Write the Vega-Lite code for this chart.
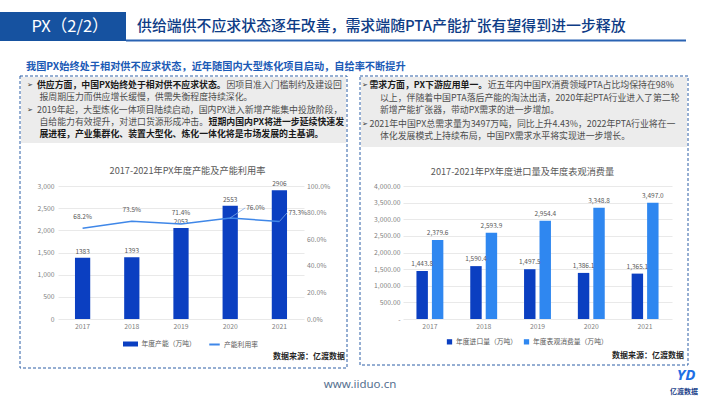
{
  "$schema": "https://vega.github.io/schema/vega-lite/v6.json",
  "width": 710,
  "height": 399,
  "autosize": "none",
  "padding": 0,
  "background": "#ffffff",
  "config": {
    "font": "Noto Sans CJK SC",
    "view": {"stroke": null},
    "axis": {"labelFont": "Noto Sans CJK SC", "labelColor": "#7f7f7f", "labelFontSize": 6.8, "ticks": false, "gridColor": "#e3e3e3", "gridWidth": 0.8, "domainColor": "#d9d9d9"},
    "legend": {"labelFont": "Noto Sans CJK SC", "labelColor": "#595959", "labelFontSize": 6.8, "title": null},
    "text": {"baseline": "middle"}
  },
  "datasets": {
    "capacity": [
      {"year": "2017", "capacity": 1383, "util": 0.682},
      {"year": "2018", "capacity": 1393, "util": 0.735},
      {"year": "2019", "capacity": 2053, "util": 0.714},
      {"year": "2020", "capacity": 2553, "util": 0.760},
      {"year": "2021", "capacity": 2906, "util": 0.733}
    ],
    "trade": [
      {"year": "2017", "series": "年度进口量（万吨）", "value": 1443.8},
      {"year": "2017", "series": "年度表观消费量（万吨）", "value": 2379.6},
      {"year": "2018", "series": "年度进口量（万吨）", "value": 1590.4},
      {"year": "2018", "series": "年度表观消费量（万吨）", "value": 2593.9},
      {"year": "2019", "series": "年度进口量（万吨）", "value": 1497.5},
      {"year": "2019", "series": "年度表观消费量（万吨）", "value": 2954.4},
      {"year": "2020", "series": "年度进口量（万吨）", "value": 1386.1},
      {"year": "2020", "series": "年度表观消费量（万吨）", "value": 3348.8},
      {"year": "2021", "series": "年度进口量（万吨）", "value": 1365.1},
      {"year": "2021", "series": "年度表观消费量（万吨）", "value": 3497.0}
    ]
  },
  "resolve": {
    "scale": {"x": "independent", "y": "independent", "color": "independent", "stroke": "independent"},
    "axis": {"x": "independent", "y": "independent"},
    "legend": {"color": "independent", "stroke": "independent"}
  },
  "layer": [
    {"data": {"values": [{}]}, "mark": {"type": "rect", "color": "#1652a0"}, "encoding": {"x": {"value": 0}, "x2": {"value": 126}, "y": {"value": 12}, "y2": {"value": 41}}},
    {"data": {"values": [{}]}, "mark": {"type": "rect", "color": "#2a63b3"}, "encoding": {"x": {"value": 126}, "x2": {"value": 686}, "y": {"value": 39.5}, "y2": {"value": 41.5}}},
    {"data": {"values": [{}]}, "mark": {"type": "text", "text": "PX（2/2）", "align": "center", "fontSize": 16.5, "color": "#ffffff"}, "encoding": {"x": {"value": 70}, "y": {"value": 27}}},
    {"data": {"values": [{}]}, "mark": {"type": "text", "text": "供给端供不应求状态逐年改善，需求端随PTA产能扩张有望得到进一步释放", "align": "left", "fontSize": 14.9, "fontWeight": 500, "color": "#0e3c86"}, "encoding": {"x": {"value": 137}, "y": {"value": 27}}},
    {"data": {"values": [{}]}, "mark": {"type": "text", "text": "我国PX始终处于相对供不应求状态，近年随国内大型炼化项目启动，自给率不断提升", "align": "left", "fontSize": 10.2, "fontWeight": "bold", "color": "#1b5ab6"}, "encoding": {"x": {"value": 26}, "y": {"value": 67}}},
    {"data": {"values": [{}]}, "mark": {"type": "rect", "color": "#ececec"}, "encoding": {"x": {"value": 21}, "x2": {"value": 346}, "y": {"value": 77}, "y2": {"value": 143}}},
    {"data": {"values": [{}]}, "mark": {"type": "rect", "color": "#ececec"}, "encoding": {"x": {"value": 361}, "x2": {"value": 687}, "y": {"value": 77}, "y2": {"value": 147}}},
    {"data": {"values": [{}]}, "mark": {"type": "rect", "filled": false, "stroke": "#2c5fa6", "strokeWidth": 1, "strokeDash": [3, 2]}, "encoding": {"x": {"value": 20}, "x2": {"value": 347}, "y": {"value": 76}, "y2": {"value": 368}}},
    {"data": {"values": [{}]}, "mark": {"type": "rect", "filled": false, "stroke": "#2c5fa6", "strokeWidth": 1, "strokeDash": [3, 2]}, "encoding": {"x": {"value": 360}, "x2": {"value": 688}, "y": {"value": 76}, "y2": {"value": 365}}},

    {"data": {"values": [{}]}, "mark": {"type": "text", "text": "➢", "align": "left", "fontSize": 6.5, "color": "#333333"}, "encoding": {"x": {"value": 27}, "y": {"value": 85}}},
    {"data": {"values": [{}]}, "mark": {"type": "text", "text": "供应方面，中国PX始终处于相对供不应求状态。", "align": "left", "fontSize": 8.9, "fontWeight": "bold", "color": "#1a1a1a"}, "encoding": {"x": {"value": 37}, "y": {"value": 85}}},
    {"data": {"values": [{}]}, "mark": {"type": "text", "text": "因项目准入门槛制约及建设回", "align": "left", "fontSize": 8.9, "color": "#4d4d4d"}, "encoding": {"x": {"value": 226.4}, "y": {"value": 85}}},
    {"data": {"values": [{}]}, "mark": {"type": "text", "text": "报周期压力而供应增长缓慢，供需失衡程度持续深化。", "align": "left", "fontSize": 8.9, "color": "#4d4d4d"}, "encoding": {"x": {"value": 39.5}, "y": {"value": 97}}},
    {"data": {"values": [{}]}, "mark": {"type": "text", "text": "➢", "align": "left", "fontSize": 6.5, "color": "#333333"}, "encoding": {"x": {"value": 27}, "y": {"value": 110}}},
    {"data": {"values": [{}]}, "mark": {"type": "text", "text": "2019年起，大型炼化一体项目陆续启动，国内PX进入新增产能集中投放阶段，", "align": "left", "fontSize": 8.9, "color": "#4d4d4d"}, "encoding": {"x": {"value": 37}, "y": {"value": 110}}},
    {"data": {"values": [{}]}, "mark": {"type": "text", "text": "自给能力有效提升，对进口货源形成冲击。", "align": "left", "fontSize": 8.9, "color": "#4d4d4d"}, "encoding": {"x": {"value": 39.5}, "y": {"value": 122}}},
    {"data": {"values": [{}]}, "mark": {"type": "text", "text": "短期内国内PX将进一步延续快速发", "align": "left", "fontSize": 8.9, "fontWeight": "bold", "color": "#1a1a1a"}, "encoding": {"x": {"value": 208.6}, "y": {"value": 122}}},
    {"data": {"values": [{}]}, "mark": {"type": "text", "text": "展进程，产业集群化、装置大型化、炼化一体化将是市场发展的主基调。", "align": "left", "fontSize": 8.9, "fontWeight": "bold", "color": "#1a1a1a"}, "encoding": {"x": {"value": 39.5}, "y": {"value": 134}}},

    {"data": {"values": [{}]}, "mark": {"type": "text", "text": "➢", "align": "left", "fontSize": 6.5, "color": "#333333"}, "encoding": {"x": {"value": 362}, "y": {"value": 85}}},
    {"data": {"values": [{}]}, "mark": {"type": "text", "text": "需求方面，PX下游应用单一。", "align": "left", "fontSize": 8.9, "fontWeight": "bold", "color": "#1a1a1a"}, "encoding": {"x": {"value": 369.5}, "y": {"value": 85}}},
    {"data": {"values": [{}]}, "mark": {"type": "text", "text": "近五年内中国PX消费领域PTA占比均保持在98%", "align": "left", "fontSize": 8.9, "color": "#4d4d4d"}, "encoding": {"x": {"value": 487.7}, "y": {"value": 85}}},
    {"data": {"values": [{}]}, "mark": {"type": "text", "text": "以上，伴随着中国PTA落后产能的淘汰出清，2020年起PTA行业进入了第二轮", "align": "left", "fontSize": 8.9, "color": "#4d4d4d"}, "encoding": {"x": {"value": 380}, "y": {"value": 97.5}}},
    {"data": {"values": [{}]}, "mark": {"type": "text", "text": "新增产能扩张器，带动PX需求的进一步增加。", "align": "left", "fontSize": 8.9, "color": "#4d4d4d"}, "encoding": {"x": {"value": 380}, "y": {"value": 110}}},
    {"data": {"values": [{}]}, "mark": {"type": "text", "text": "➢", "align": "left", "fontSize": 6.5, "color": "#333333"}, "encoding": {"x": {"value": 362}, "y": {"value": 124}}},
    {"data": {"values": [{}]}, "mark": {"type": "text", "text": "2021年中国PX总需求量为3497万吨，同比上升4.43%，2022年PTA行业将在一", "align": "left", "fontSize": 8.9, "color": "#4d4d4d"}, "encoding": {"x": {"value": 369.5}, "y": {"value": 124}}},
    {"data": {"values": [{}]}, "mark": {"type": "text", "text": "体化发展模式上持续布局，中国PX需求水平将实现进一步增长。", "align": "left", "fontSize": 8.9, "color": "#4d4d4d"}, "encoding": {"x": {"value": 380}, "y": {"value": 136}}},

    {"data": {"values": [{}]}, "mark": {"type": "text", "text": "2017-2021年PX年度产能及产能利用率", "align": "center", "fontSize": 9.2, "color": "#595959"}, "encoding": {"x": {"value": 187.5}, "y": {"value": 171}}},
    {"data": {"values": [{}]}, "mark": {"type": "text", "text": "2017-2021年PX年度进口量及年度表观消费量", "align": "center", "fontSize": 9.2, "color": "#595959"}, "encoding": {"x": {"value": 522.5}, "y": {"value": 171.5}}},
    {"data": {"values": [{}]}, "mark": {"type": "text", "text": "数据来源：亿渡数据", "align": "right", "fontSize": 8, "fontWeight": "bold", "color": "#262626"}, "encoding": {"x": {"value": 345}, "y": {"value": 357}}},
    {"data": {"values": [{}]}, "mark": {"type": "text", "text": "数据来源：亿渡数据", "align": "right", "fontSize": 8, "fontWeight": "bold", "color": "#262626"}, "encoding": {"x": {"value": 684}, "y": {"value": 356}}},
    {"data": {"values": [{}]}, "mark": {"type": "text", "text": "www.iiduo.cn", "align": "center", "fontSize": 11.5, "font": "Noto Sans", "color": "#55708f"}, "encoding": {"x": {"value": 360}, "y": {"value": 385}}},
    {"data": {"values": [{}]}, "mark": {"type": "text", "text": "YD", "align": "center", "fontSize": 15, "fontWeight": "bold", "fontStyle": "italic", "font": "Noto Sans", "color": "#1f6fe5"}, "encoding": {"x": {"value": 686}, "y": {"value": 375}}},
    {"data": {"values": [{}]}, "mark": {"type": "text", "text": "亿渡数据", "align": "center", "fontSize": 7, "fontWeight": "bold", "color": "#1b3f8a"}, "encoding": {"x": {"value": 684}, "y": {"value": 392}}},

    {
      "data": {"name": "capacity"},
      "resolve": {"scale": {"y": "independent"}, "axis": {"y": "independent"}},
      "layer": [
        {
          "layer": [
            {
              "mark": {"type": "bar"},
              "encoding": {
                "x": {"field": "year", "type": "ordinal", "scale": {"range": [58, 304], "paddingInner": 0.69, "paddingOuter": 0.345},
                      "axis": {"orient": "bottom", "offset": -80, "title": null, "labelAngle": 0, "labelPadding": 4, "domain": false}},
                "y": {"field": "capacity", "type": "quantitative", "scale": {"domain": [0, 3000], "range": [319, 186], "nice": false},
                      "axis": {"orient": "left", "offset": -58, "title": null, "values": [0, 500, 1000, 1500, 2000, 2500, 3000], "grid": true, "domain": false, "labelPadding": 4}},
                "color": {"datum": "年度产能（万吨）", "scale": {"range": ["#0b3fc1"]},
                          "legend": {"orient": "none", "legendX": 124.5, "legendY": 338, "symbolType": "M-1.5,-0.5H1.5V0.5H-1.5Z", "symbolSize": 100, "labelOffset": 5}}
              }
            },
            {
              "mark": {"type": "text", "dy": -6, "fontSize": 6.5, "color": "#595959"},
              "encoding": {
                "x": {"field": "year", "type": "ordinal"},
                "y": {"field": "capacity", "type": "quantitative"},
                "text": {"field": "capacity", "type": "quantitative", "format": "d"}
              }
            }
          ]
        },
        {
          "layer": [
            {
              "mark": {"type": "line", "strokeWidth": 1.5},
              "encoding": {
                "x": {"field": "year", "type": "ordinal"},
                "y": {"field": "util", "type": "quantitative", "scale": {"domain": [0, 1], "range": [319, 186], "nice": false},
                      "axis": {"orient": "right", "offset": -406.5, "title": null, "values": [0, 0.1, 0.2, 0.3, 0.4, 0.5, 0.6, 0.7, 0.8, 0.9, 1], "format": ".1%", "grid": false, "domain": false, "labelPadding": 3}},
                "stroke": {"datum": "产能利用率", "scale": {"range": ["#3f87e8"]},
                           "legend": {"orient": "none", "legendX": 208, "legendY": 338, "symbolType": "stroke", "symbolSize": 110, "symbolStrokeWidth": 2, "labelOffset": 3}}
              }
            },
            {
              "transform": [{"filter": {"field": "year", "oneOf": ["2020"]}}],
              "mark": {"type": "rule", "color": "#7fa9e6", "strokeWidth": 0.8, "x2Offset": 15, "y2Offset": -10},
              "encoding": {
                "x": {"field": "year", "type": "ordinal"},
                "x2": {"field": "year"},
                "y": {"field": "util", "type": "quantitative"},
                "y2": {"field": "util"}
              }
            },
            {
              "transform": [{"filter": {"field": "year", "oneOf": ["2021"]}}],
              "mark": {"type": "rule", "color": "#7fa9e6", "strokeWidth": 0.8, "x2Offset": 8, "y2Offset": -9},
              "encoding": {
                "x": {"field": "year", "type": "ordinal"},
                "x2": {"field": "year"},
                "y": {"field": "util", "type": "quantitative"},
                "y2": {"field": "util"}
              }
            },
            {
              "transform": [{"filter": {"field": "year", "oneOf": ["2017", "2018", "2019"]}}],
              "mark": {"type": "text", "dy": -11.5, "fontSize": 6.5, "color": "#595959"},
              "encoding": {
                "x": {"field": "year", "type": "ordinal"},
                "y": {"field": "util", "type": "quantitative"},
                "text": {"field": "util", "type": "quantitative", "format": ".1%"}
              }
            },
            {
              "transform": [{"filter": {"field": "year", "oneOf": ["2020"]}}],
              "mark": {"type": "text", "dy": -10, "dx": 16, "align": "left", "fontSize": 6.5, "color": "#595959"},
              "encoding": {
                "x": {"field": "year", "type": "ordinal"},
                "y": {"field": "util", "type": "quantitative"},
                "text": {"field": "util", "type": "quantitative", "format": ".1%"}
              }
            },
            {
              "transform": [{"filter": {"field": "year", "oneOf": ["2021"]}}],
              "mark": {"type": "text", "dy": -9, "dx": 9, "align": "left", "fontSize": 6.5, "color": "#595959"},
              "encoding": {
                "x": {"field": "year", "type": "ordinal"},
                "y": {"field": "util", "type": "quantitative"},
                "text": {"field": "util", "type": "quantitative", "format": ".1%"}
              }
            }
          ]
        }
      ]
    },
    {
      "data": {"name": "trade"},
      "layer": [
        {
          "mark": {"type": "bar"},
          "encoding": {
            "x": {"field": "year", "type": "ordinal", "scale": {"range": [403, 672], "paddingInner": 0.5, "paddingOuter": 0.25},
                  "axis": {"orient": "bottom", "offset": -80, "title": null, "labelAngle": 0, "labelPadding": 4, "domain": false}},
            "xOffset": {"field": "series", "type": "nominal", "sort": ["年度进口量（万吨）", "年度表观消费量（万吨）"], "scale": {"paddingInner": 0.26, "paddingOuter": 0}},
            "y": {"field": "value", "type": "quantitative", "scale": {"domain": [0, 4000], "range": [319, 186], "nice": false},
                  "axis": {"orient": "left", "offset": -403, "title": null, "values": [0, 500, 1000, 1500, 2000, 2500, 3000, 3500, 4000], "grid": true, "domain": false, "labelPadding": 3,
                           "labelExpr": "datum.value === 0 ? '-' : format(datum.value, ',.2f')"}},
            "color": {"field": "series", "type": "nominal", "sort": ["年度进口量（万吨）", "年度表观消费量（万吨）"],
                      "scale": {"domain": ["年度进口量（万吨）", "年度表观消费量（万吨）"], "range": ["#0b3fc1", "#2f87f0"]},
                      "legend": {"orient": "none", "legendX": 446, "legendY": 338, "direction": "horizontal", "symbolType": "square", "symbolSize": 28, "labelOffset": 3, "columnPadding": 5}}
          }
        },
        {
          "mark": {"type": "text", "dy": -7, "fontSize": 6.5, "color": "#595959"},
          "encoding": {
            "x": {"field": "year", "type": "ordinal"},
            "xOffset": {"field": "series", "type": "nominal", "sort": ["年度进口量（万吨）", "年度表观消费量（万吨）"]},
            "y": {"field": "value", "type": "quantitative"},
            "text": {"field": "value", "type": "quantitative", "format": ",.1f"}
          }
        }
      ]
    }
  ]
}
